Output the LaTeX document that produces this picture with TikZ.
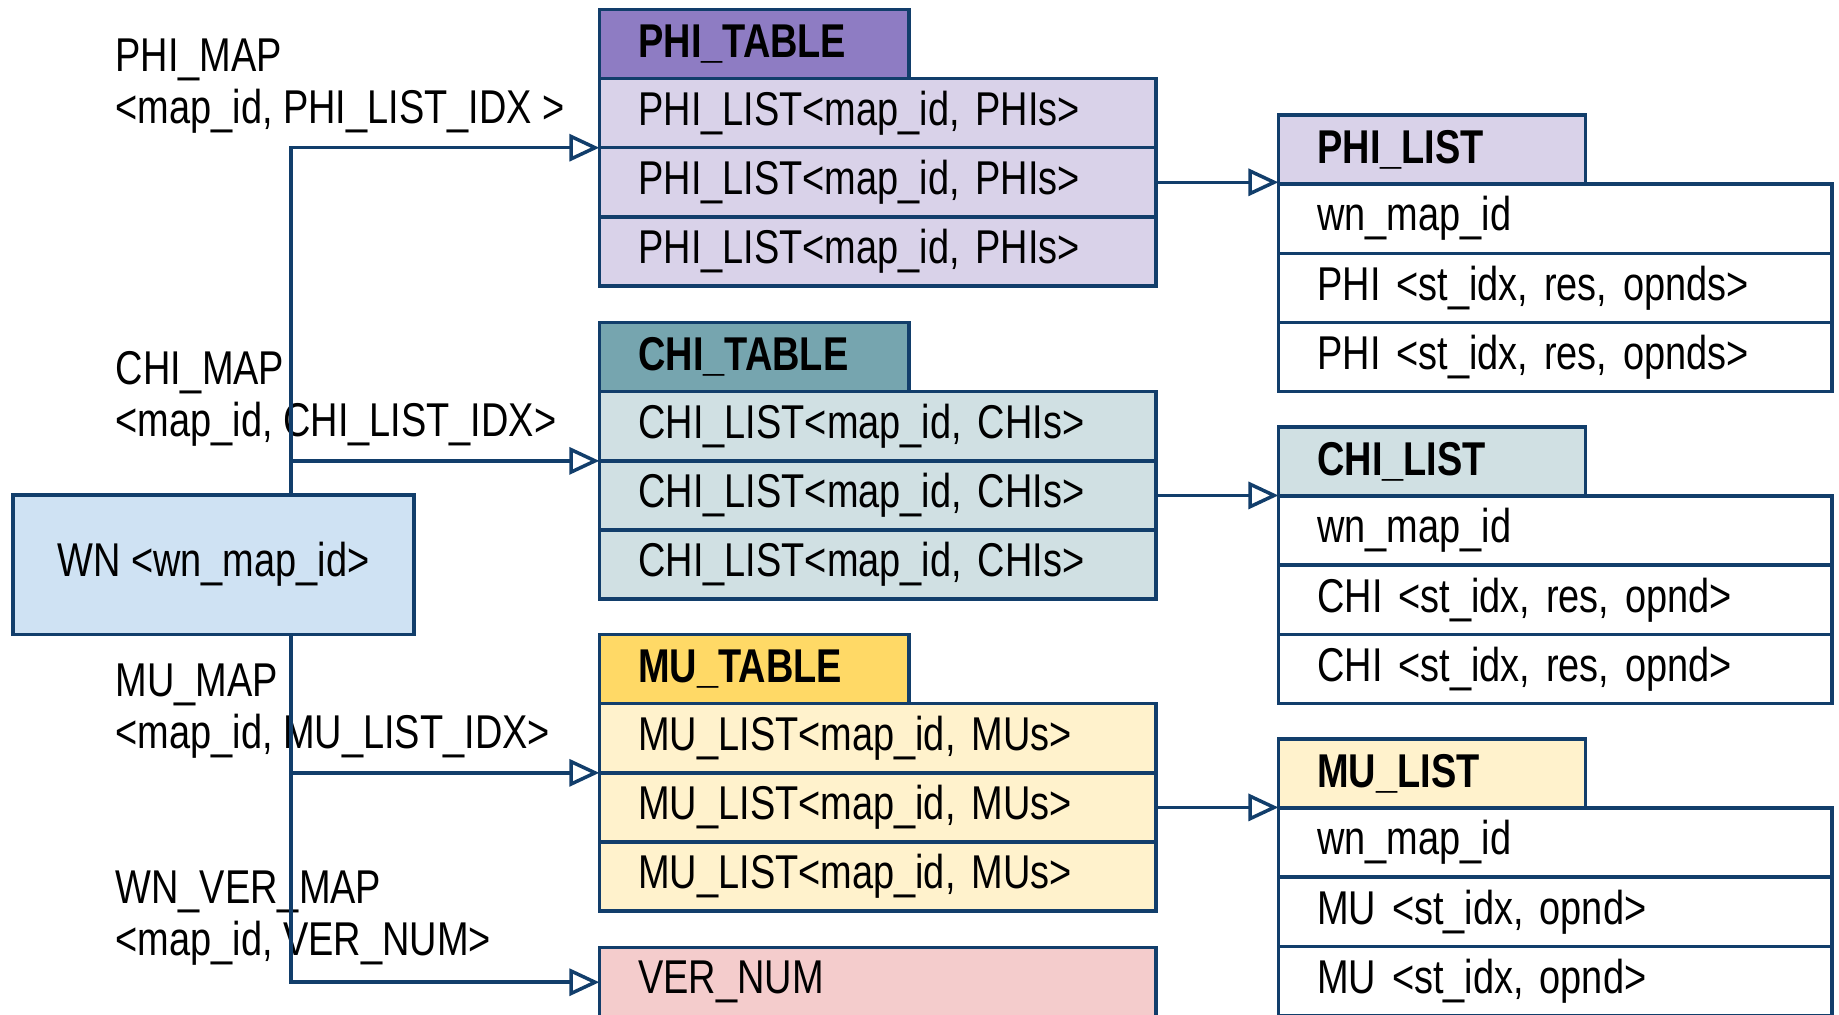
\documentclass[tikz,border=0pt]{standalone}
\usepackage{fontspec}
\setmainfont{Liberation Sans}[FakeStretch=0.8]
\usetikzlibrary{positioning,arrows.meta}

\definecolor{edge}{HTML}{123E6B}
\definecolor{phiHead}{HTML}{8E7CC3}
\definecolor{phiRow}{HTML}{D9D2E9}
\definecolor{chiHead}{HTML}{76A5AF}
\definecolor{chiRow}{HTML}{D0E0E3}
\definecolor{muHead}{HTML}{FFD966}
\definecolor{muRow}{HTML}{FFF2CC}
\definecolor{verRow}{HTML}{F4CCCC}
\definecolor{wnFill}{HTML}{CFE2F3}

\tikzset{
  cell/.style={draw=edge, line width=1pt, minimum height=0.692cm, inner xsep=0.39cm,
    inner ysep=0pt, outer sep=0pt, align=left, font=\fontsize{13.5}{15}\selectfont},
  row/.style={cell, text width=4.79cm},
  item/.style={cell, text width=4.756cm, fill=white},
  head/.style={cell, text width=2.316cm, font=\fontsize{13.5}{15}\selectfont\bfseries},
  maplbl/.style={anchor=west, align=left, inner sep=0pt, font=\fontsize{13.5}{14.8}\selectfont},
  link/.style={draw=edge, line width=1pt, -{Triangle[open, length=0.3cm, width=0.27cm]}}
}

\begin{document}
\begin{tikzpicture}[x=0.011728cm, y=-0.011728cm]
  \useasboundingbox (0,0) rectangle (1568,865);

  % map labels
  \node[maplbl] (phiMap) at (98,73) {PHI\_MAP\\<map\_id, PHI\_LIST\_IDX >};
  \node[maplbl] (chiMap) at (98,340) {CHI\_MAP\\<map\_id, CHI\_LIST\_IDX>};
  \node[maplbl] (muMap) at (98,606) {MU\_MAP\\<map\_id, MU\_LIST\_IDX>};
  \node[maplbl] (verMap) at (98,783) {WN\_VER\_MAP\\<map\_id, VER\_NUM>};

  \node[cell, fill=wnFill, anchor=north west, align=center, minimum width=4.011cm,
    minimum height=1.396cm] (wn) at (11,422) {WN <wn\_map\_id>};

  % tables
  \node[head, fill=phiHead, anchor=north west] (phiH) at (511,8) {PHI\_TABLE};
  \node[row, fill=phiRow, anchor=north west] (phiR1) at (phiH.south west) {PHI\_LIST<map\_id, PHIs>};
  \foreach \i/\j in {2/1,3/2}
    \node[row, fill=phiRow, below=0pt of phiR\j] (phiR\i) {PHI\_LIST<map\_id, PHIs>};

  \node[head, fill=chiHead, anchor=north west] (chiH) at (511,275) {CHI\_TABLE};
  \node[row, fill=chiRow, anchor=north west] (chiR1) at (chiH.south west) {CHI\_LIST<map\_id, CHIs>};
  \foreach \i/\j in {2/1,3/2}
    \node[row, fill=chiRow, below=0pt of chiR\j] (chiR\i) {CHI\_LIST<map\_id, CHIs>};

  \node[head, fill=muHead, anchor=north west] (muH) at (511,541) {MU\_TABLE};
  \node[row, fill=muRow, anchor=north west] (muR1) at (muH.south west) {MU\_LIST<map\_id, MUs>};
  \foreach \i/\j in {2/1,3/2}
    \node[row, fill=muRow, below=0pt of muR\j] (muR\i) {MU\_LIST<map\_id, MUs>};

  \node[row, fill=verRow, anchor=north west] (ver) at (511,808) {VER\_NUM};

  % lists
  \node[head, fill=phiRow, anchor=north west, text width=2.293cm] (phiL) at (1090,98) {PHI\_LIST};
  \node[item, anchor=north west] (phiI1) at (phiL.south west) {wn\_map\_id};
  \node[item, below=0pt of phiI1] (phiI2) {PHI <st\_idx, res, opnds>};
  \node[item, below=0pt of phiI2] (phiI3) {PHI <st\_idx, res, opnds>};

  \node[head, fill=chiRow, anchor=north west, text width=2.293cm] (chiL) at (1090,364) {CHI\_LIST};
  \node[item, anchor=north west] (chiI1) at (chiL.south west) {wn\_map\_id};
  \node[item, below=0pt of chiI1] (chiI2) {CHI <st\_idx, res, opnd>};
  \node[item, below=0pt of chiI2] (chiI3) {CHI <st\_idx, res, opnd>};

  \node[head, fill=muRow, anchor=north west, text width=2.293cm] (muL) at (1090,630) {MU\_LIST};
  \node[item, anchor=north west] (muI1) at (muL.south west) {wn\_map\_id};
  \node[item, below=0pt of muI1] (muI2) {MU <st\_idx, opnd>};
  \node[item, below=0pt of muI2] (muI3) {MU <st\_idx, opnd>};

  % connectors
  \coordinate (tk) at (248,0);
  \draw[link] (tk |- wn.north) |- (phiR1.south west);
  \draw[link] (tk |- wn.north) |- (chiR1.south west);
  \draw[link] (tk |- wn.south) |- (muR1.south west);
  \draw[link] (tk |- wn.south) |- (ver.west);

  \draw[link] (phiR2.east) -- (phiR2.east -| phiL.west);
  \draw[link] (chiR2.east) -- (chiR2.east -| chiL.west);
  \draw[link] (muR2.east) -- (muR2.east -| muL.west);
\end{tikzpicture}
\end{document}
